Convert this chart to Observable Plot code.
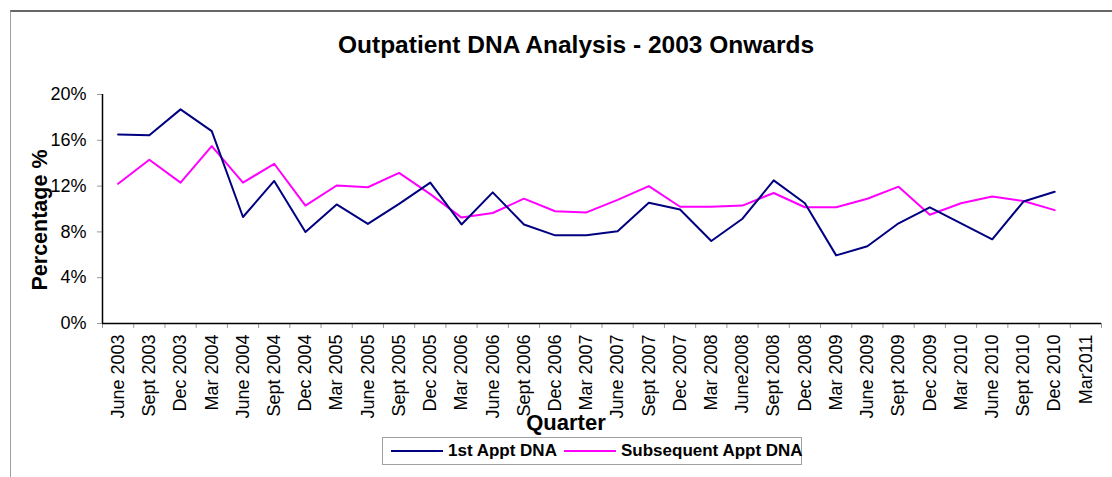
<!DOCTYPE html>
<html><head><meta charset="utf-8">
<script src="https://cdn.jsdelivr.net/npm/d3@7"></script>
<script src="https://cdn.jsdelivr.net/npm/@observablehq/plot@0.6"></script>
<style>
body{margin:0;background:#fff;}
#wrap{position:relative;width:1112px;height:477px;overflow:hidden;font-family:"Liberation Sans",Arial,sans-serif;color:#000;background:#fff;}
#frame{position:absolute;left:10px;top:10px;width:1200px;height:600px;border-left:1px solid #a0a0a0;border-top:2px solid #666;}
#chart{position:absolute;left:0;top:0;}
#title{position:absolute;left:576px;top:33px;transform:translateX(-50%);font-size:24.5px;line-height:24px;font-weight:bold;white-space:nowrap;}
#ylabel{position:absolute;left:40px;top:220px;transform:translate(-50%,-50%) rotate(-90deg);font-size:21.5px;line-height:21px;font-weight:bold;white-space:nowrap;}
#xlabel{position:absolute;left:566px;top:412px;transform:translateX(-50%);font-size:22px;line-height:21px;font-weight:bold;white-space:nowrap;}
#legend{position:absolute;left:382px;top:437px;width:418px;height:26px;border:1px solid #a0a0a0;background:#fff;}
.lg-line{position:absolute;top:12px;height:2px;}
.lg-text{position:absolute;top:0;line-height:26px;font-size:17px;font-weight:bold;white-space:nowrap;}
</style></head><body>
<div id="wrap">
  <div id="frame"></div>
  <div id="title">Outpatient DNA Analysis - 2003 Onwards</div>
  <div id="chart"></div>
  <div id="ylabel">Percentage %</div>
  <div id="xlabel">Quarter</div>
  <div id="legend"></div>
</div>
<script>
const quarters = ["June 2003","Sept 2003","Dec 2003","Mar 2004","June 2004","Sept 2004","Dec 2004","Mar 2005","June 2005","Sept 2005","Dec 2005","Mar 2006","June 2006","Sept 2006","Dec 2006","Mar 2007","June 2007","Sept 2007","Dec 2007","Mar 2008","June2008","Sept 2008","Dec 2008","Mar 2009","June 2009","Sept 2009","Dec 2009","Mar 2010","June 2010","Sept 2010","Dec 2010","Mar2011"];
const firstAppt = [16.5,16.45,18.7,16.8,9.3,12.45,8.0,10.4,8.7,10.45,12.3,8.65,11.45,8.65,7.7,7.7,8.05,10.55,9.95,7.2,9.15,12.5,10.5,5.95,6.75,8.75,10.15,8.75,7.35,10.65,11.5];
const subsequentAppt = [12.2,14.3,12.3,15.5,12.3,13.95,10.3,12.05,11.9,13.15,11.3,9.25,9.65,10.9,9.8,9.7,10.8,12.0,10.2,10.2,10.3,11.4,10.15,10.15,10.9,11.95,9.5,10.5,11.1,10.7,9.9];
const yTicks = [0,4,8,12,16,20];
const seriesNames = ["1st Appt DNA","Subsequent Appt DNA"];
const seriesColors = ["#000080","#FF00FF"];

const toRows = arr => arr.map((v,i)=>({i, v}));
const boundaries = d3.range(quarters.length+1).map(k=>k-0.5);

const chart = Plot.plot({
  width:1112, height:477,
  marginLeft:102, marginRight:11, marginTop:94, marginBottom:154,
  style:{fontFamily:'"Liberation Sans", Arial, sans-serif', fontSize:"18px", background:"transparent", color:"#000"},
  x:{type:"linear", domain:[-0.5, quarters.length-0.5], axis:null},
  y:{domain:[0,20], axis:null},
  marks:[
    Plot.axisY({ticks:yTicks, tickFormat:d=>d+"%", tickSize:5, tickPadding:11, stroke:"#999", fill:"#000", label:null, fontSize:18}),
    Plot.axisX({ticks:boundaries, tickFormat:()=>"", tickSize:5, stroke:"#999", label:null}),
    Plot.axisX({ticks:d3.range(quarters.length), tickFormat:i=>quarters[i], tickSize:0, tickPadding:11, tickRotate:-90, fill:"#000", label:null, fontSize:18}),
    Plot.ruleY([0], {stroke:"#000", strokeWidth:1.5}),
    Plot.ruleX([-0.5], {stroke:"#000", strokeWidth:1.5}),
    Plot.line(toRows(subsequentAppt), {x:"i", y:"v", stroke:seriesColors[1], strokeWidth:2}),
    Plot.line(toRows(firstAppt), {x:"i", y:"v", stroke:seriesColors[0], strokeWidth:2})
  ]
});
document.getElementById("chart").appendChild(chart);

const lg = document.getElementById("legend");
const lineLeft = [8,181], textLeft = [65,238];
seriesNames.forEach((name,k)=>{
  const l = document.createElement("div");
  l.className="lg-line"; l.style.left=lineLeft[k]+"px"; l.style.width="52px"; l.style.background=seriesColors[k];
  lg.appendChild(l);
  const t = document.createElement("div");
  t.className="lg-text"; t.style.left=textLeft[k]+"px"; t.textContent=name;
  lg.appendChild(t);
});
</script>
</body></html>
